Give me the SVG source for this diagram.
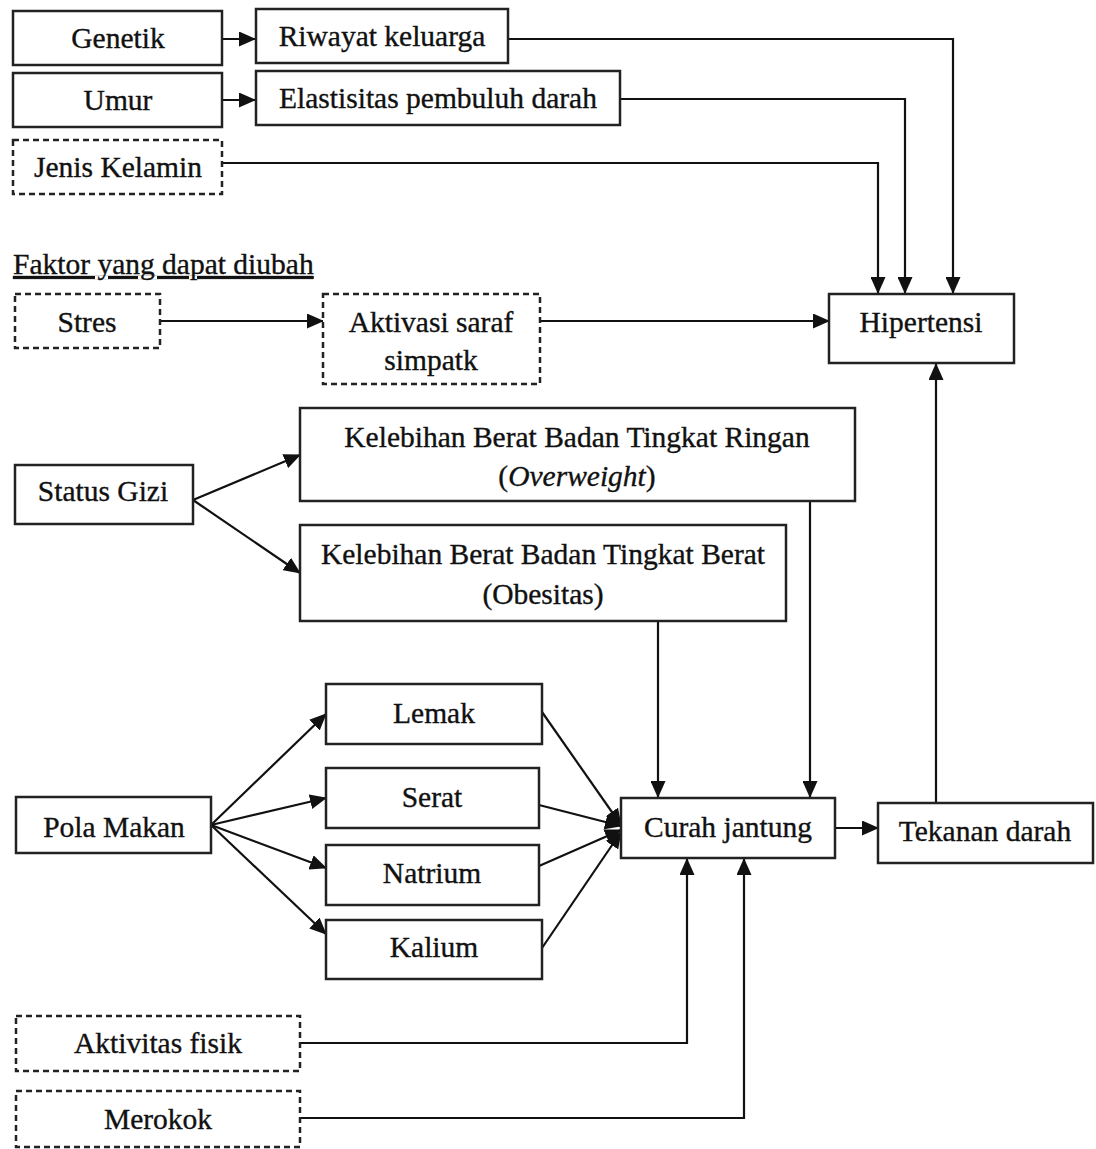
<svg xmlns="http://www.w3.org/2000/svg" width="1096" height="1149" viewBox="0 0 1096 1149">
<style>
.b{fill:#fff;stroke:#222;stroke-width:2.5}
.d{fill:#fff;stroke:#222;stroke-width:2.5;stroke-dasharray:6 4}
.c{fill:none;stroke:#111;stroke-width:2.2}
text{font-family:"Liberation Serif","Times New Roman",serif;font-size:29.5px;fill:#111;stroke:#111;stroke-width:0.35;text-anchor:middle}
</style>
<defs>
<marker id="ah" markerUnits="userSpaceOnUse" markerWidth="17" markerHeight="15" refX="16" refY="7.5" orient="auto">
<path d="M0,0 L17,7.5 L0,15 Z" fill="#111"/>
</marker>
</defs>
<rect width="1096" height="1149" fill="#fff"/>
<g id="connectors" class="c">
<path class="c" d="M222,39 H255" marker-end="url(#ah)"/>
<path class="c" d="M222,100 H255" marker-end="url(#ah)"/>
<path class="c" d="M508,39 H953 V293" marker-end="url(#ah)"/>
<path class="c" d="M620,99 H905 V293" marker-end="url(#ah)"/>
<path class="c" d="M222,163 H878 V293" marker-end="url(#ah)"/>
<path class="c" d="M160,321 H323" marker-end="url(#ah)"/>
<path class="c" d="M540,321 H829" marker-end="url(#ah)"/>
<path class="c" d="M193,500 L300,455" marker-end="url(#ah)"/>
<path class="c" d="M193,500 L300,573" marker-end="url(#ah)"/>
<path class="c" d="M810,501 V797" marker-end="url(#ah)"/>
<path class="c" d="M658,621 V797" marker-end="url(#ah)"/>
<path class="c" d="M211,825 L326,714" marker-end="url(#ah)"/>
<path class="c" d="M211,825 L326,798" marker-end="url(#ah)"/>
<path class="c" d="M211,825 L326,868" marker-end="url(#ah)"/>
<path class="c" d="M211,825 L326,934" marker-end="url(#ah)"/>
<path class="c" d="M542,712 L621,825" marker-end="url(#ah)"/>
<path class="c" d="M539,805 L621,826" marker-end="url(#ah)"/>
<path class="c" d="M539,866 L621,830" marker-end="url(#ah)"/>
<path class="c" d="M542,948 L621,832" marker-end="url(#ah)"/>
<path class="c" d="M835,828 H878" marker-end="url(#ah)"/>
<path class="c" d="M936,803 V364" marker-end="url(#ah)"/>
<path class="c" d="M300,1043 H687 V859" marker-end="url(#ah)"/>
<path class="c" d="M300,1118 H744 V859" marker-end="url(#ah)"/>
</g>
<g id="genetik"><rect class="b" x="13" y="11" width="209" height="54"/><text x="118" y="48">Genetik</text></g>
<g id="riwayat"><rect class="b" x="256" y="9" width="252" height="54"/><text x="382" y="46">Riwayat keluarga</text></g>
<g id="umur"><rect class="b" x="13" y="73" width="209" height="54"/><text x="118" y="110">Umur</text></g>
<g id="elastisitas"><rect class="b" x="256" y="71" width="364" height="54"/><text x="438" y="108">Elastisitas pembuluh darah</text></g>
<g id="jenis"><rect class="d" x="13" y="140" width="209" height="54"/><text x="118" y="177">Jenis Kelamin</text></g>
<g id="faktor-label"><text x="13" y="274" style="text-anchor:start;text-decoration:underline">Faktor yang dapat diubah</text></g>
<g id="stres"><rect class="d" x="15" y="294" width="145" height="54"/><text x="87" y="332">Stres</text></g>
<g id="aktivasi"><rect class="d" x="323" y="294" width="217" height="90"/><text x="431" y="332">Aktivasi saraf</text><text x="431" y="370">simpatk</text></g>
<g id="hipertensi"><rect class="b" x="829" y="294" width="185" height="69"/><text x="921" y="332">Hipertensi</text></g>
<g id="status-gizi"><rect class="b" x="15" y="465" width="178" height="59"/><text x="103" y="501">Status Gizi</text></g>
<g id="overweight"><rect class="b" x="300" y="408" width="555" height="93"/><text x="577" y="447">Kelebihan Berat Badan Tingkat Ringan</text><text x="577" y="486">(<tspan font-style="italic">Overweight</tspan>)</text></g>
<g id="obesitas"><rect class="b" x="300" y="525" width="486" height="96"/><text x="543" y="564">Kelebihan Berat Badan Tingkat Berat</text><text x="543" y="604">(Obesitas)</text></g>
<g id="lemak"><rect class="b" x="326" y="684" width="216" height="60"/><text x="434" y="723">Lemak</text></g>
<g id="serat"><rect class="b" x="326" y="768" width="213" height="60"/><text x="432" y="807">Serat</text></g>
<g id="natrium"><rect class="b" x="326" y="845" width="213" height="60"/><text x="432" y="883">Natrium</text></g>
<g id="kalium"><rect class="b" x="326" y="920" width="216" height="59"/><text x="434" y="957">Kalium</text></g>
<g id="pola-makan"><rect class="b" x="16" y="797" width="195" height="56"/><text x="114" y="837">Pola Makan</text></g>
<g id="curah-jantung"><rect class="b" x="621" y="798" width="214" height="60"/><text x="728" y="837">Curah jantung</text></g>
<g id="tekanan-darah"><rect class="b" x="878" y="803" width="215" height="60"/><text x="985" y="841">Tekanan darah</text></g>
<g id="aktivitas-fisik"><rect class="d" x="16" y="1016" width="284" height="55"/><text x="158" y="1053">Aktivitas fisik</text></g>
<g id="merokok"><rect class="d" x="16" y="1091" width="284" height="56"/><text x="158" y="1129">Merokok</text></g>
</svg>
